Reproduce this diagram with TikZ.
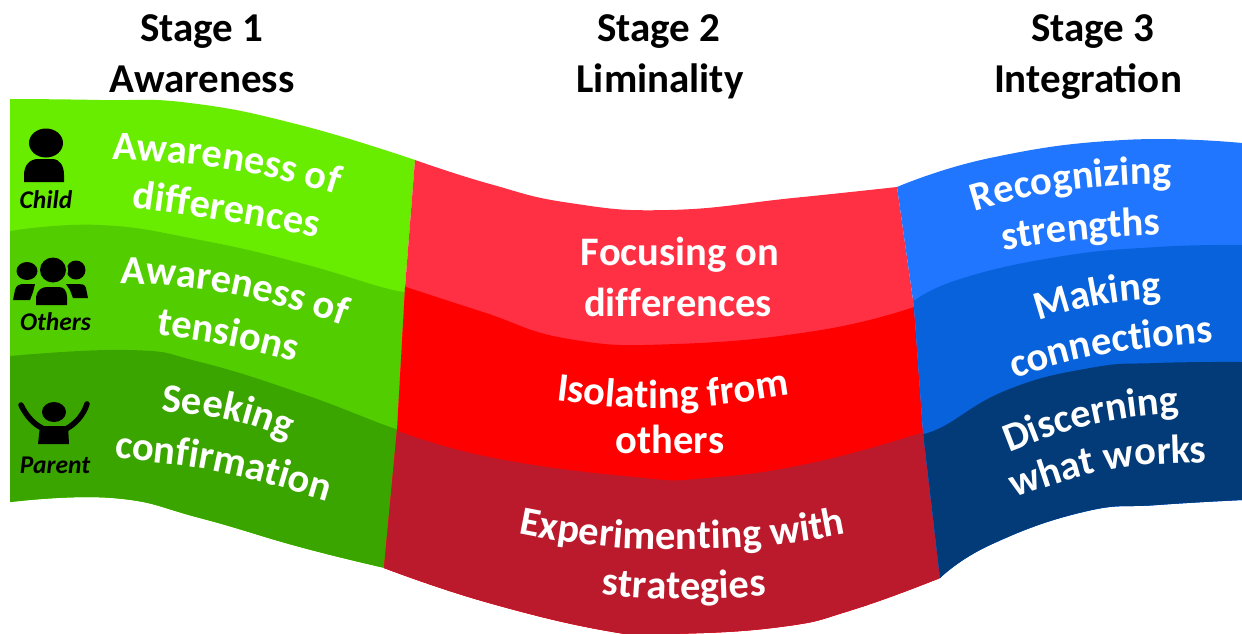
\documentclass[tikz,border=0pt]{standalone}
\usepackage{fontspec}
\setmainfont{Carlito}
\usetikzlibrary{decorations.text}
\definecolor{gA}{HTML}{68EC00}
\definecolor{gB}{HTML}{52CE00}
\definecolor{gC}{HTML}{3BA500}
\definecolor{rA}{HTML}{FF3044}
\definecolor{rB}{HTML}{FF0000}
\definecolor{rC}{HTML}{BA1A2C}
\definecolor{bA}{HTML}{2176FF}
\definecolor{bB}{HTML}{0862DB}
\definecolor{bC}{HTML}{033A78}
\newcommand{\bandfont}{\fontsize{40.5}{40.5}\bfseries\selectfont\color{white}}
\tikzset{
  curve/.style={smooth,tension=0.8},
  bandtext/.style={decorate,decoration={text along path,text align=center,text={|\bandfont|#1}}},
  headtext/.style={font=\fontsize{41}{41}\bfseries\selectfont,text=black,anchor=base,inner sep=0pt},
  iconlabel/.style={font=\fontsize{25.5}{25.5}\bfseries\itshape\selectfont,text=black,anchor=base,inner sep=0pt},
}
\begin{document}
\begin{tikzpicture}[x=1pt,y=-1pt]
\useasboundingbox (0,0) rectangle (1242,633);
% green column
\begin{scope}
\clip plot[curve] coordinates {(10,99)(100,100)(190,103)(300,125)(415,160)} -- (405,288) -- (397,430) -- (385,568)
  -- plot[curve] coordinates {(385,568)(300,547)(200,518)(113,498)(10,502)} -- cycle;
\fill[gA] (0,90) rectangle (420,600);
\fill[gB] plot[curve] coordinates {(10,231)(100,225)(200,240)(300,263)(393,290)(410,288)} -- (420,600) -- (0,600) -- cycle;
\fill[gC] plot[curve] coordinates {(10,356)(130,350)(200,362)(300,393)(390,427)(400,428)} -- (420,600) -- (0,600) -- cycle;
\end{scope}
% red column
\begin{scope}
\clip plot[curve] coordinates {(415,160)(490,184)(570,203)(669,210)(793,198)(897,187)} -- (914,307) -- (923,432) -- (940,578)
  -- plot[curve] coordinates {(940,578)(852,610)(780,627)(671,634)(613,632)(489,603)(384,568)} -- (397,430) -- (405,288) -- cycle;
\fill[rA] (380,150) rectangle (945,640);
\fill[rB] plot[curve] coordinates {(400,285)(483,312)(569,339)(676,344)(821,330)(920,305)} -- (945,640) -- (380,640) -- cycle;
\fill[rC] plot[curve] coordinates {(390,428)(489,457)(634,477)(707,478)(816,462)(930,430)} -- (945,640) -- (380,640) -- cycle;
\end{scope}
% blue column
\begin{scope}
\clip plot[curve] coordinates {(897,187)(990,158)(1123,140)(1242,143)} -- (1242,500)
  -- plot[curve] coordinates {(1242,500)(1157,505)(1083,512)(990,545)(940,578)} -- (923,432) -- (914,307) -- cycle;
\fill[bA] (890,130) rectangle (1242,600);
\fill[bB] plot[curve] coordinates {(910,304)(957,280)(1057,257)(1157,247)(1242,245)} -- (1242,600) -- (890,600) -- cycle;
\fill[bC] plot[curve] coordinates {(915,434)(940,428)(1007,390)(1090,368)(1157,363)(1242,362)} -- (1242,600) -- (890,600) -- cycle;
\end{scope}
% headers
\node[headtext] (h1a) at (202,41) {Stage 1};
\node[headtext] (h1b) at (202,92) {Awareness};
\node[headtext] (h2a) at (659,41) {Stage 2};
\node[headtext] (h2b) at (660,92) {Liminality};
\node[headtext] (h3a) at (1093,41) {Stage 3};
\node[headtext] (h3b) at (1088,92) {Integration};
% green texts
\path[bandtext={Awareness of}] plot[curve] coordinates {(44,160)(113,160)(175,163)(233,170)(290,182)(345,197)(400,218)};
\path[bandtext={differences}] plot[curve] coordinates {(78,200)(130,207)(225,221)(318,238)(370,249)};
\path[bandtext={Awareness of}] plot[curve] coordinates {(60,281)(120,283)(180,287)(240,296)(300,312)(350,328)(400,347)};
\path[bandtext={tensions}] plot[curve] coordinates {(100,327)(157,335)(225,345)(297,362)(350,377)};
\path[bandtext={Seeking}] plot[curve] coordinates {(108,407)(163,412)(230,420)(293,440)(340,455)};
\path[bandtext={confirmation}] plot[curve] coordinates {(60,451)(115,458)(220,472)(330,502)(380,517)};
% red texts
\path[bandtext={Focusing on}] plot coordinates {(500,265)(860,265)};
\path[bandtext={differences}] plot coordinates {(496,316)(860,316)};
\path[bandtext={Isolating from}] plot[curve] coordinates {(490,387)(553,400)(670,408)(790,395)(856,382)};
\path[bandtext={others}] plot coordinates {(570,453)(770,453)};
\path[bandtext={Experimenting with}] plot[curve] coordinates {(450,517)(516,533)(600,546)(680,549)(770,545)(851,533)(915,518)};
\path[bandtext={strategies}] plot[curve] coordinates {(548,591)(602,595)(682,599)(766,596)(820,591)};
% blue texts
\path[bandtext={Recognizing}] plot[curve] coordinates {(925,230)(972,212)(1040,195)(1110,186)(1172,184)(1225,184)};
\path[bandtext={strengths}] plot[curve] coordinates {(955,258)(1005,250)(1080,240)(1160,235)(1210,232)};
\path[bandtext={Making}] plot[curve] coordinates {(985,340)(1035,322)(1100,305)(1162,298)(1218,293)};
\path[bandtext={connections}] plot[curve] coordinates {(960,396)(1008,380)(1100,355)(1213,342)(1270,337)};
\path[bandtext={Discerning}] plot[curve] coordinates {(960,472)(1010,452)(1090,425)(1180,412)(1232,407)};
\path[bandtext={what works}] plot[curve] coordinates {(970,516)(1017,497)(1110,470)(1205,462)(1255,458)};
% Child icon
\fill[black] (46,143) ellipse [x radius=17,y radius=14.5];
\fill[black] (24,182) -- (24,175) .. controls (24,165) and (30,159) .. (38,159) -- (52,159) .. controls (60,159) and (64,166) .. (64,175) -- (64,182) -- cycle;
\node[iconlabel] (child) at (46,208) {Child};
% Others icon
\fill[black] (27,271) ellipse [x radius=10.5,y radius=9];
\fill[black] (76,270) ellipse [x radius=9.5,y radius=9.5];
\fill[black] (13,300) -- (15,290) .. controls (16,285) and (20,284) .. (24,284) -- (35,284) -- (33,292) -- (30,300) -- cycle;
\fill[black] (88,298) -- (86,288) .. controls (85,284) and (81,284) .. (78,284) -- (66,284) -- (70,290) -- (73,298) -- cycle;
\fill[gB] (53,270) circle (15);
\fill[black] (53,270) ellipse [x radius=13,y radius=12.5];
\fill[black] (36,305) -- (36,297) .. controls (37,290) and (42,287) .. (47,287) -- (59,287) .. controls (64,287) and (67,291) .. (67,297) -- (67,305) -- cycle;
\node[iconlabel] (others) at (55.5,330) {Others};
% Parent icon
\fill[black] (54,412) ellipse [x radius=12,y radius=10];
\draw[black,line width=5.5pt,line cap=round] (21,405) .. controls (27,417) and (34,424) .. (42,428);
\draw[black,line width=5.5pt,line cap=round] (87,404) .. controls (83,416) and (75,424) .. (66,429);
\fill[black] (40,426) -- (68,426) -- (69,444) -- (38,444) -- cycle;
\node[iconlabel] (parent) at (55,473) {Parent};
\end{tikzpicture}
\end{document}
